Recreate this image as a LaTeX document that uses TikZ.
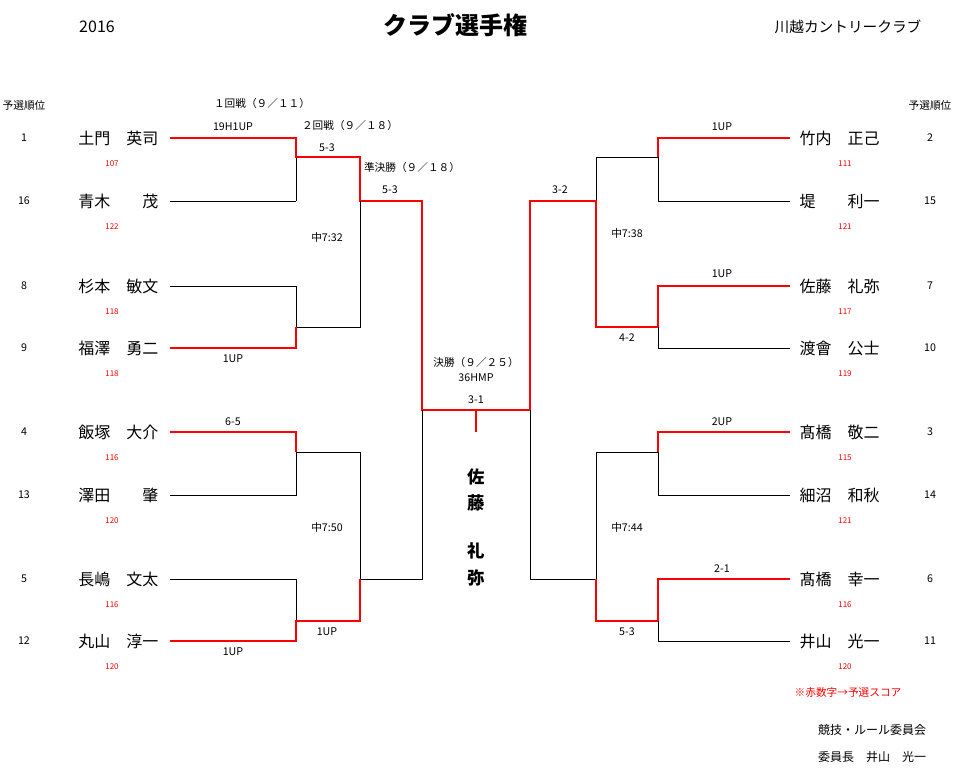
\documentclass[tikz,border=0pt]{standalone}
\usepackage{fontspec}
\setmainfont{Noto Sans CJK JP}
\usetikzlibrary{positioning}
\begin{document}
\begin{tikzpicture}[x=0.75pt,y=-0.75pt,
    bline/.style={draw=black,line width=0.6pt},
    win/.style={draw=red,line width=1.8pt},
    pname/.style={font=\fontsize{12}{12}\selectfont,inner sep=1pt},
    seed/.style={font=\fontsize{8}{8}\selectfont},
    score/.style={font=\fontsize{6}{6}\selectfont,text=red},
    lbl/.style={font=\fontsize{8}{8}\selectfont,inner sep=1pt}
]
\useasboundingbox (0,0) rectangle (960,771);
% header
\node[font=\fontsize{18}{18}\selectfont\bfseries] (title) at (455,25) {クラブ選手権};
\node[font=\fontsize{12}{12}\selectfont] (year) at (97,27) {2016};
\node[font=\fontsize{11}{11}\selectfont] (club) at (848,27) {川越カントリークラブ};
\node[seed] (hl) at (24,105) {予選順位};
\node[seed] (hr) at (930,105) {予選順位};
\node[lbl] (r1) at (262,103) {１回戦（９／１１）};
\node[lbl] (r2) at (350,125) {２回戦（９／１８）};
\node[lbl] (r3) at (412,167) {準決勝（９／１８）};
% players
\foreach \y/\s/\n/\p [count=\i] in {138/1/土門　英司/107,201/16/青木　　茂/122,
    286/8/杉本　敏文/118,348/9/福澤　勇二/118,432/4/飯塚　大介/116,
    495/13/澤田　　肇/120,579/5/長嶋　文太/116,641/12/丸山　淳一/120}{
  \node[pname,anchor=east] (L\i) at (160,\y) {\n};
  \node[seed] (Ls\i) at (24,\y) {\s};
  \node[score] (Lp\i) at (112,\y+26) {\p};
  \coordinate (La\i) at (170,\y);
  \coordinate (Lb\i) at (296,\y);
}
\foreach \y/\s/\n/\p [count=\i] in {138/2/竹内　正己/111,201/15/堤　　利一/121,
    286/7/佐藤　礼弥/117,348/10/渡會　公士/119,432/3/髙橋　敬二/115,
    495/14/細沼　和秋/121,579/6/髙橋　幸一/116,641/11/井山　光一/120}{
  \node[pname,anchor=west] (R\i) at (798,\y) {\n};
  \node[seed] (Rs\i) at (930,\y) {\s};
  \node[score] (Rp\i) at (845,\y+26) {\p};
  \coordinate (Ra\i) at (790,\y);
  \coordinate (Rb\i) at (658,\y);
}
% left bracket
\draw[bline] (296,157) -- (296,201) (La2) -- (Lb2);
\draw[win] (La1) -- (Lb1) -- (296,157) -- (360,157) -- (360,201) -- (422,201) -- (422,410) -- (530,410);
\draw[bline] (360,201) -- (360,327) -- (296,327) -- (Lb3) -- (La3);
\draw[win] (La4) -- (Lb4) -- (296,327);
\draw[bline] (422,410) -- (422,579) -- (360,579) -- (360,452) -- (296,452) -- (296,495) -- (La6);
\draw[win] (La5) -- (Lb5) -- (296,452);
\draw[bline] (La7) -- (Lb7) -- (296,621);
\draw[win] (La8) -- (Lb8) -- (296,621) -- (360,621) -- (360,579);
% right bracket
\draw[win] (Ra1) -- (Rb1) -- (658,157);
\draw[bline] (658,157) -- (596,157) -- (596,201) (658,157) -- (658,201) -- (Ra2);
\draw[win] (Ra3) -- (Rb3) -- (658,327) -- (596,327) -- (596,201) -- (530,201) -- (530,410);
\draw[bline] (658,327) -- (658,348) -- (Ra4);
\draw[bline] (530,410) -- (530,579) -- (596,579) -- (596,452) -- (658,452) -- (658,495) -- (Ra6);
\draw[win] (Ra5) -- (Rb5) -- (658,452);
\draw[win] (Ra7) -- (Rb7) -- (658,621) -- (596,621) -- (596,579);
\draw[bline] (658,621) -- (658,641) -- (Ra8);
\draw[win] (476,410) -- (476,432);
% scores
\node[lbl] (s1) at (233,127) {19H1UP};
\node[lbl] (s2) at (327,148) {5-3};
\node[lbl] (s3) at (390,190) {5-3};
\node[lbl] (s4) at (327,237) {中7:32};
\node[lbl] (s5) at (233,359) {1UP};
\node[lbl] (s6) at (233,422) {6-5};
\node[lbl] (s7) at (327,527) {中7:50};
\node[lbl] (s8) at (327,632) {1UP};
\node[lbl] (s9) at (233,652) {1UP};
\node[lbl] (t1) at (722,127) {1UP};
\node[lbl] (t2) at (627,233) {中7:38};
\node[lbl] (t3) at (722,274) {1UP};
\node[lbl] (t4) at (627,338) {4-2};
\node[lbl] (t5) at (722,422) {2UP};
\node[lbl] (t6) at (627,527) {中7:44};
\node[lbl] (t7) at (722,569) {2-1};
\node[lbl] (t8) at (627,632) {5-3};
\node[lbl] (t9) at (560,190) {3-2};
\node[lbl] (f1) at (476,362) {決勝（９／２５）};
\node[lbl] (f2) at (476,378) {36HMP};
\node[lbl] (f3) at (476,400) {3-1};
% champion
\foreach \c/\y in {佐/477,藤/503,礼/551,弥/578}
  \node[font=\fontsize{13}{13}\selectfont\bfseries] at (476,\y) {\c};
% footer
\node[lbl,text=red] (note) at (848,692) {※赤数字→予選スコア};
\node[font=\fontsize{9}{9}\selectfont] (com) at (872,730) {競技・ルール委員会};
\node[font=\fontsize{9}{9}\selectfont] (chair) at (872,757) {委員長　井山　光一};
\end{tikzpicture}
\end{document}
